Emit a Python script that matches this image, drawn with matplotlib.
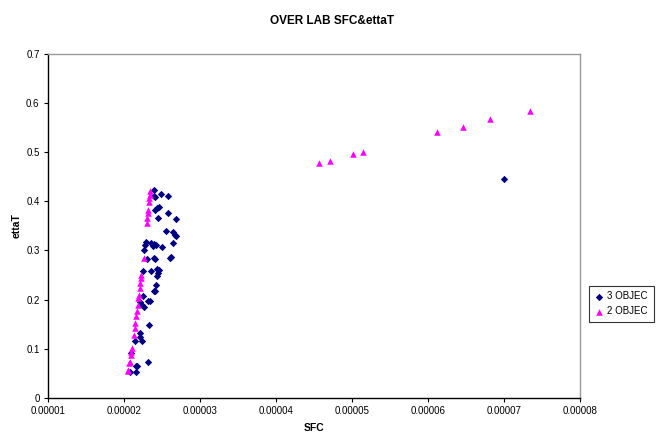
import matplotlib
matplotlib.use("Agg")
import matplotlib.pyplot as plt
import numpy as np
from matplotlib.ticker import FuncFormatter

plt.rcParams['font.family'] = ['Liberation Sans', 'DejaVu Sans']

# SFC values in units of 1e-5
sfc_3obj = [2.402, 2.393, 2.415, 2.485, 2.581, 2.463, 2.437, 2.415, 2.581, 2.445,
            2.682, 2.559, 2.652, 2.678, 2.687, 2.292, 2.283, 2.266, 2.358, 2.384,
            2.393, 2.428, 2.507, 2.652, 2.301, 2.393, 2.415, 2.603, 2.621, 2.252,
            2.353, 2.437, 2.459, 2.445, 2.437, 2.428, 2.393, 2.415, 2.248, 2.318,
            2.340, 2.217, 2.239, 2.266, 2.327, 2.217, 2.209, 2.147, 2.235, 2.099,
            2.314, 2.156, 2.169, 2.086, 2.160, 7.00]
etta_3obj = [0.422, 0.411, 0.409, 0.414, 0.411, 0.388, 0.386, 0.382, 0.377, 0.367,
             0.365, 0.340, 0.337, 0.332, 0.329, 0.317, 0.311, 0.301, 0.316, 0.310,
             0.313, 0.312, 0.308, 0.315, 0.282, 0.284, 0.282, 0.285, 0.286, 0.259,
             0.259, 0.262, 0.261, 0.254, 0.248, 0.229, 0.218, 0.217, 0.208, 0.198,
             0.198, 0.196, 0.189, 0.185, 0.149, 0.133, 0.125, 0.116, 0.115, 0.092,
             0.073, 0.065, 0.065, 0.053, 0.053, 0.446]

sfc_2obj = [2.340, 2.349, 2.336, 2.331, 2.323, 2.318, 2.309, 2.305, 2.261, 2.230,
            2.226, 2.217, 2.209, 2.195, 2.187, 2.182, 2.173, 2.165, 2.152, 2.143,
            2.130, 2.108, 2.099, 2.094, 2.086, 2.073, 2.059, 2.055,
            4.57, 4.71, 5.01, 5.15, 6.12, 6.46, 6.82, 7.34]
etta_2obj = [0.420, 0.413, 0.407, 0.398, 0.382, 0.376, 0.366, 0.356, 0.284, 0.250,
             0.244, 0.234, 0.223, 0.210, 0.203, 0.189, 0.176, 0.166, 0.152, 0.142,
             0.128, 0.101, 0.094, 0.088, 0.074, 0.071, 0.057, 0.054,
             0.477, 0.483, 0.496, 0.501, 0.540, 0.551, 0.567, 0.584]

fig = plt.figure(figsize=(6.65, 4.34), dpi=100)
ax = fig.add_axes([0.072, 0.083, 0.800, 0.793])

ax.scatter(np.array(sfc_3obj) * 1e-5, etta_3obj, marker='D', s=14, color='#000080',
           label='3 OBJEC', zorder=3, linewidths=0)
ax.scatter(np.array(sfc_2obj) * 1e-5, etta_2obj, marker='^', s=22, color='#FF00FF',
           label='2 OBJEC', zorder=3, linewidths=0)

ax.set_xlim(1e-5, 8e-5)
ax.set_ylim(0, 0.7)
ax.set_xticks(np.arange(1, 9) * 1e-5)
ax.set_yticks(np.arange(0, 0.71, 0.1))
ax.xaxis.set_major_formatter(FuncFormatter(lambda v, p: '%.5f' % v))
ax.yaxis.set_major_formatter(FuncFormatter(lambda v, p: '0' if v == 0 else '%.1f' % v))
ax.tick_params(labelsize=7, length=3, width=0.8, color='black', direction='out', pad=3)

for side in ['top', 'right']:
    ax.spines[side].set_color('#999999')
    ax.spines[side].set_linewidth(1.0)
for side in ['left', 'bottom']:
    ax.spines[side].set_color('black')
    ax.spines[side].set_linewidth(1.0)

ax.set_xlabel('SFC', fontsize=7.5, fontweight='bold', labelpad=5)
ax.set_ylabel('ettaT', fontsize=7.5, fontweight='bold', labelpad=3)
fig.suptitle('OVER LAB SFC&ettaT', fontsize=8.5, fontweight='bold', x=0.5, y=0.965)

# legend box to the right of the plot area
leg = fig.legend(loc='center left', bbox_to_anchor=(0.878, 0.30), fontsize=7,
                 frameon=True, fancybox=False, edgecolor='black', handletextpad=0.3,
                 borderpad=0.6, labelspacing=0.5, handlelength=1.0)
leg.get_frame().set_linewidth(0.8)

fig.savefig('out.png', dpi=100)
